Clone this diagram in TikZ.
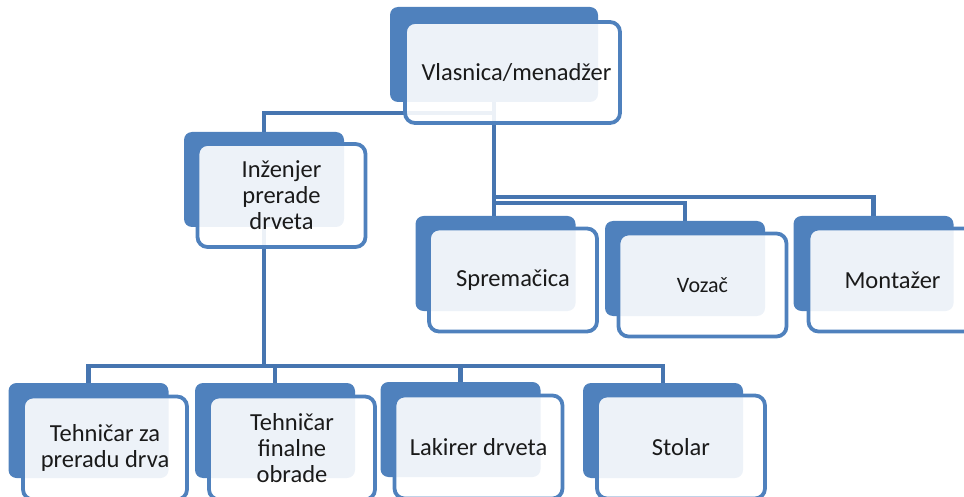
\documentclass[tikz,border=0pt]{standalone}
\usepackage{fontspec}
\setmainfont{Carlito}
\definecolor{accent}{HTML}{4F81BD}
\definecolor{linkcol}{HTML}{4675B0}
\definecolor{txt}{HTML}{1A1A1A}
\pgfdeclarelayer{bg}
\pgfsetlayers{bg,main}
\begin{document}
\begin{tikzpicture}[x=1pt,y=-1pt,
  backbox/.style={rectangle, rounded corners=8pt, fill=accent, minimum width=160pt, minimum height=95pt, inner sep=0pt, outer sep=0pt},
  frontbox/.style={rectangle, rounded corners=10pt, draw=accent, line width=3.8pt, fill=white, fill opacity=0.9, text opacity=1, minimum width=168pt, minimum height=103pt, inner sep=0pt, align=center, text=txt, font=\fontsize{24.5}{26}\selectfont},
  link/.style={draw=linkcol, line width=4.5pt}]
\useasboundingbox (0,0) rectangle (964,497);
\clip (0,0) rectangle (964,497);

% top
\node[backbox, minimum width=208pt] (topB) at (494,54.5) {};
\node[frontbox, minimum width=215pt, minimum height=101pt] (top) at (512.5,72.5) {\hspace*{8pt}Vlasnica/menadžer};

% second level
\node[backbox] (injB) at (264,179.5) {};
\node[frontbox] (inj) at (281.5,195.5) {Inženjer\\prerade\\drveta};

\node[backbox] (sprB) at (495.5,263.5) {};
\node[frontbox] (spr) at (513,280) {Spremačica};

\node[backbox] (vozB) at (685,268.5) {};
\node[frontbox, font=\fontsize{22}{24}\selectfont] (voz) at (702.5,285) {Vozač};

\node[backbox] (monB) at (873.5,263.5) {};
\node[frontbox] (mon) at (892.5,280) {Montažer};

% bottom level
\node[backbox] (t1B) at (88.5,430.5) {};
\node[frontbox, minimum width=164pt] (t1) at (105,448) {Tehničar za\\preradu drva};

\node[backbox] (t2B) at (275,430.5) {};
\node[frontbox, minimum width=166pt] (t2) at (292,448) {Tehničar\\finalne\\obrade};

\node[backbox] (t3B) at (460.5,429.5) {};
\node[frontbox] (t3) at (478.5,447) {Lakirer drveta};

\node[backbox] (t4B) at (663,430.5) {};
\node[frontbox] (t4) at (681,447) {Stolar};

\begin{pgfonlayer}{bg}
  \draw[link] (topB.south) -- ++(0,11) -| (injB.north);
  \draw[link] (topB.south) -- ++(0,95) -| (monB.north);
  \draw[link] (topB.south) -- ++(0,101) -| (vozB.north);
  \draw[link] (topB.south) -- (topB.south |- sprB.north);
  \draw[link] (injB.south) -- ++(0,139) -| (t1B.north);
  \draw[link] (injB.south) -- ++(0,139) -| (t2B.north);
  \draw[link] (injB.south) -- ++(0,139) -| (t3B.north);
  \draw[link] (injB.south) -- ++(0,139) -| (t4B.north);
\end{pgfonlayer}
\end{tikzpicture}
\end{document}
